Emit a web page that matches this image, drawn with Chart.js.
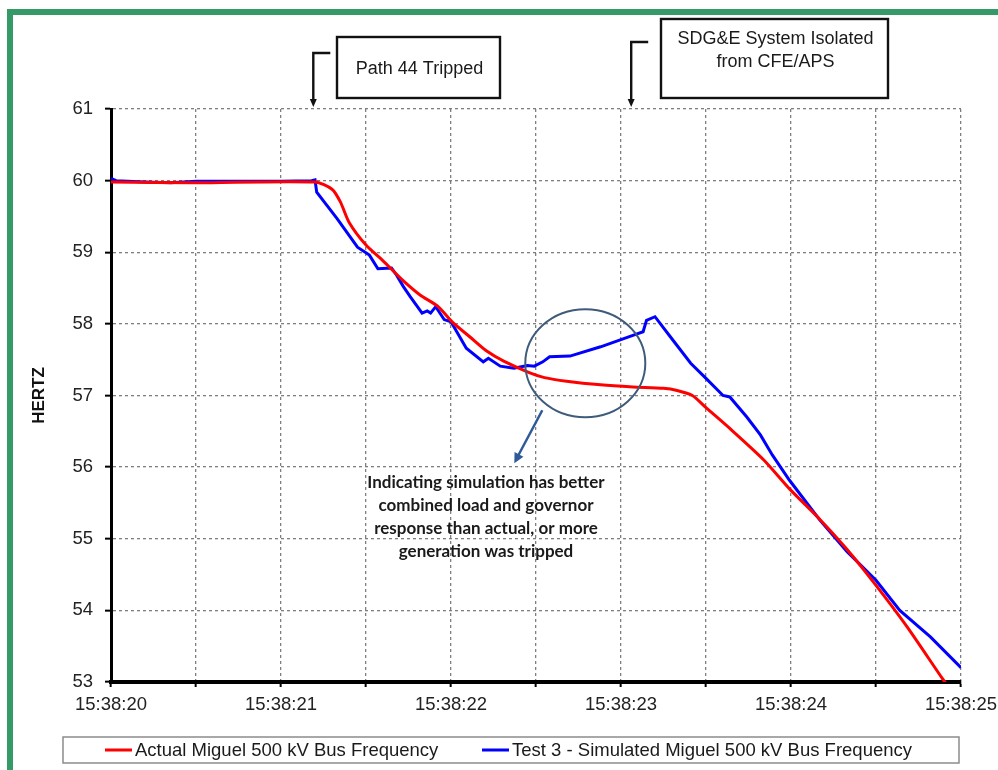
<!DOCTYPE html>
<html>
<head>
<meta charset="utf-8">
<script src="https://cdn.jsdelivr.net/npm/chart.js@4/dist/chart.umd.min.js"></script>
<style>
  html, body { margin: 0; padding: 0; background: #fff; }
  #wrap { position: relative; width: 998px; height: 770px; overflow: hidden; }
  #frame { position: absolute; left: 7px; top: 9px; width: 1200px; height: 1000px;
           border-top: 6px solid #359a68; border-left: 6px solid #359a68; }
  canvas { position: absolute; left: 0; top: 0; }
</style>
</head>
<body>
<div id="wrap">
  <div id="frame"></div>
  <canvas id="c" width="998" height="770"></canvas>
</div>
<script>
// Seconds after 15:38:20 and bus frequency in Hz
const timeLabels = ['15:38:20', '15:38:21', '15:38:22', '15:38:23', '15:38:24', '15:38:25'];
const hzTicks = [53, 54, 55, 56, 57, 58, 59, 60, 61];

const actualT  = [0, 0.5, 1.2, 1.3, 1.35, 1.4, 1.5, 1.6, 1.72, 1.82, 1.92, 2.01, 2.11, 2.21, 2.31, 2.46, 2.55, 2.68, 2.88, 3.07, 3.25, 3.33, 3.42, 3.5, 3.64, 3.84, 3.99, 4.17, 4.33, 4.5, 4.68, 4.89, 4.93];
const actualHz = [59.98, 59.97, 59.98, 59.88, 59.7, 59.42, 59.1, 58.88, 58.6, 58.4, 58.25, 58.02, 57.82, 57.62, 57.48, 57.32, 57.25, 57.2, 57.15, 57.12, 57.1, 57.07, 57.0, 56.83, 56.54, 56.1, 55.7, 55.27, 54.85, 54.35, 53.78, 53.05, 52.92];

const simT  = [0, 0.03, 0.2, 0.35, 0.5, 1.0, 1.18, 1.2, 1.21, 1.33, 1.45, 1.52, 1.57, 1.65, 1.68, 1.72, 1.76, 1.83, 1.86, 1.88, 1.91, 1.96, 2.0, 2.09, 2.19, 2.22, 2.29, 2.37, 2.45, 2.49, 2.54, 2.58, 2.7, 2.88, 3.07, 3.13, 3.15, 3.2, 3.29, 3.41, 3.5, 3.6, 3.64, 3.74, 3.82, 3.89, 3.99, 4.17, 4.33, 4.5, 4.64, 4.82, 5.0];
const simHz = [60.03, 60.0, 59.98, 59.97, 59.99, 59.99, 60.0, 60.01, 59.84, 59.47, 59.07, 58.96, 58.77, 58.78, 58.68, 58.52, 58.38, 58.15, 58.18, 58.15, 58.24, 58.06, 58.03, 57.66, 57.47, 57.52, 57.41, 57.38, 57.42, 57.41, 57.47, 57.54, 57.55, 57.68, 57.84, 57.89, 58.05, 58.1, 57.82, 57.45, 57.24, 57.0, 56.98, 56.7, 56.45, 56.17, 55.82, 55.26, 54.82, 54.42, 54.0, 53.63, 53.2];

const seriesNames = ['Actual Miguel 500 kV Bus Frequency', 'Test 3 - Simulated Miguel 500 kV Bus Frequency'];
const seriesColors = ['#ff0000', '#0000ff'];

// Event markers: time of event and callout text
const eventTimes = [1.19, 3.06];
const eventText = [['Path 44 Tripped'], ['SDG&E System Isolated', 'from CFE/APS']];
const noteCenter = [2.79, 57.45];
const noteText = ['Indicating simulation has better', 'combined load and governor', 'response than actual, or more', 'generation was tripped'];

const pts = (xs, ys) => xs.map((x, i) => ({ x: x, y: ys[i] }));

const SANS = '"Liberation Sans", Arial, sans-serif';

function arrowHead(ctx, x, y, angle, len, half) {
  ctx.save();
  ctx.translate(x, y);
  ctx.rotate(angle);
  ctx.beginPath();
  ctx.moveTo(0, 0);
  ctx.lineTo(-len, -half);
  ctx.lineTo(-len, half);
  ctx.closePath();
  ctx.fill();
  ctx.restore();
}

const decorations = {
  id: 'decorations',
  afterDraw(chart) {
    const ctx = chart.ctx;
    const xs = chart.scales.x, ys = chart.scales.y;
    const top = chart.chartArea.top;
    ctx.save();

    // Event callouts: bent arrow pointing at the event time, text box beside it
    const boxes = [
      { x0: 337, y0: 37, x1: 500, y1: 98, lines: eventText[0], ly: [69], bend: 53 },
      { x0: 661, y0: 19, x1: 888, y1: 98, lines: eventText[1], ly: [39, 62], bend: 42 }
    ];
    boxes.forEach((b, i) => {
      const ex = xs.getPixelForValue(eventTimes[i]);
      ctx.strokeStyle = '#111';
      ctx.fillStyle = '#111';
      ctx.lineWidth = 2.4;
      ctx.strokeRect(b.x0, b.y0, b.x1 - b.x0, b.y1 - b.y0);
      ctx.beginPath();
      ctx.moveTo(ex + 17, b.bend);
      ctx.lineTo(ex, b.bend);
      ctx.lineTo(ex, top - 8);
      ctx.stroke();
      arrowHead(ctx, ex, top - 2, Math.PI / 2, 8, 3.5);
      ctx.font = '18px ' + SANS;
      ctx.textAlign = 'center';
      ctx.textBaseline = 'middle';
      ctx.fillStyle = '#1a1a1a';
      const cx = (b.x0 + b.x1) / 2;
      b.lines.forEach((t, k) => ctx.fillText(t, cx + 1, b.ly[k]));
    });

    // Highlight ellipse around the divergence and its pointer
    const ecx = xs.getPixelForValue(noteCenter[0]);
    const ecy = ys.getPixelForValue(noteCenter[1]);
    ctx.strokeStyle = '#3f5b7b';
    ctx.lineWidth = 2;
    ctx.beginPath();
    ctx.ellipse(ecx, ecy, 60, 54, 0, 0, Math.PI * 2);
    ctx.stroke();

    const ax0 = ecx - 43, ay0 = ecy + 47, ax1 = ecx - 71, ay1 = ecy + 100;
    ctx.strokeStyle = '#2e5a9a';
    ctx.fillStyle = '#2e5a9a';
    ctx.lineWidth = 2.5;
    ctx.beginPath();
    ctx.moveTo(ax0, ay0);
    ctx.lineTo(ax1 + 3, ay1 - 6);
    ctx.stroke();
    arrowHead(ctx, ax1, ay1, Math.atan2(ay1 - ay0, ax1 - ax0), 10, 5);

    // Explanatory note
    ctx.fillStyle = '#1a1a1a';
    ctx.font = 'bold 17px Lato, "Open Sans", sans-serif';
    ctx.textAlign = 'center';
    ctx.textBaseline = 'middle';
    noteText.forEach((t, k) => ctx.fillText(t, 486, 483 + k * 22.7));

    // Legend box beneath the axis
    ctx.strokeStyle = '#8c8c8c';
    ctx.lineWidth = 1.5;
    ctx.strokeRect(63, 737, 896, 26);
    ctx.font = '18.5px ' + SANS;
    ctx.textAlign = 'left';
    const swX = [105, 482];
    chart.data.datasets.forEach((ds, i) => {
      ctx.strokeStyle = ds.borderColor;
      ctx.lineWidth = 3;
      ctx.beginPath();
      ctx.moveTo(swX[i], 750);
      ctx.lineTo(swX[i] + 27, 750);
      ctx.stroke();
      ctx.fillStyle = '#1a1a1a';
      ctx.fillText(ds.label, swX[i] + 30, 750.5);
    });

    ctx.restore();
  }
};

new Chart(document.getElementById('c'), {
  type: 'line',
  data: {
    datasets: [
      { label: seriesNames[0], data: pts(actualT, actualHz), borderColor: seriesColors[0], borderWidth: 3, pointRadius: 0, tension: 0.25, fill: false },
      { label: seriesNames[1], data: pts(simT, simHz), borderColor: seriesColors[1], borderWidth: 3, pointRadius: 0, tension: 0, fill: false }
    ]
  },
  options: {
    responsive: false,
    animation: false,
    devicePixelRatio: 1,
    layout: { padding: { top: 109, right: 37, bottom: 0, left: 0 } },
    plugins: { legend: { display: false }, tooltip: { enabled: false } },
    scales: {
      x: {
        type: 'linear',
        min: 0, max: 5,
        afterFit(scale) { scale.height = 88; scale.paddingLeft = 0; scale.paddingRight = 0; },
        border: { display: true, color: '#000', width: 4, dash: [3, 3] },
        grid: { color: '#7f7f7f', lineWidth: 1.3, tickColor: '#000', tickLength: 5, tickWidth: 2, tickBorderDash: [] },
        ticks: {
          stepSize: 0.5,
          autoSkip: false,
          maxRotation: 0,
          padding: 7,
          color: '#222',
          font: { family: SANS, size: 18.5 },
          callback: (v) => Number.isInteger(v) ? timeLabels[v] : ''
        }
      },
      y: {
        min: hzTicks[0], max: hzTicks[hzTicks.length - 1],
        afterFit(scale) { scale.width = 111; },
        border: { display: true, color: '#000', width: 3, dash: [3, 3] },
        grid: { color: '#7f7f7f', lineWidth: 1.3, tickColor: '#000', tickLength: 6, tickWidth: 2, tickBorderDash: [] },
        ticks: {
          stepSize: 1,
          padding: 12,
          color: '#222',
          font: { family: SANS, size: 18.5 },
          callback: (v) => hzTicks.includes(v) ? String(v) : ''
        },
        title: {
          display: true,
          text: 'HERTZ',
          color: '#111',
          padding: { top: 29, bottom: 0 },
          font: { family: SANS, size: 17, weight: 'bold' }
        }
      }
    }
  },
  plugins: [decorations]
});
</script>
</body>
</html>
